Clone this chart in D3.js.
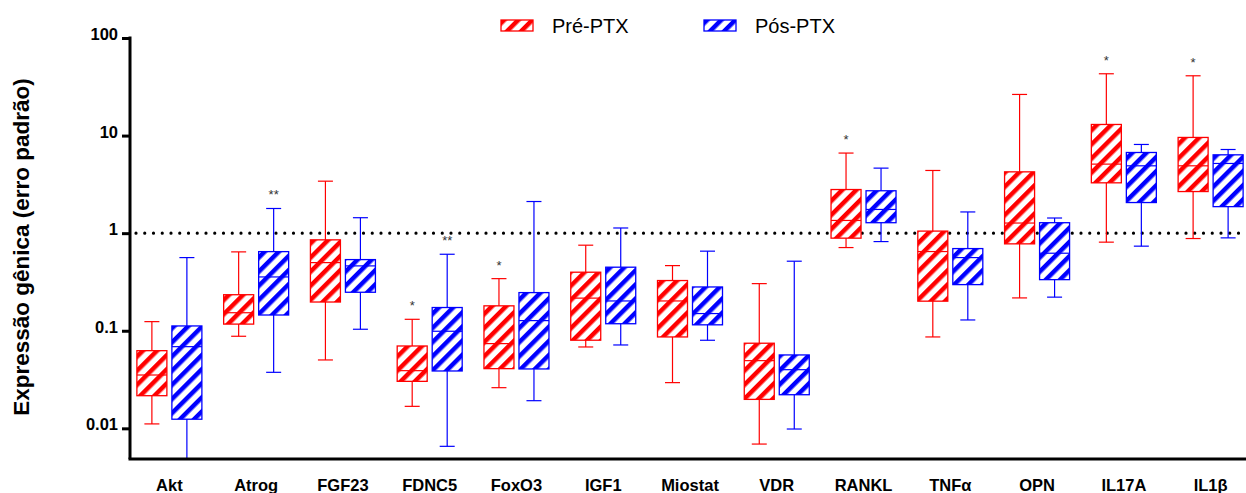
<!DOCTYPE html>
<html>
<head>
<meta charset="utf-8">
<script src="https://cdn.jsdelivr.net/npm/d3@7"></script>
<style>
  body { margin: 0; background: #fff; }
  svg { display: block; font-family: Arial, "Liberation Sans", sans-serif; }
</style>
</head>
<body>
<div id="chart"></div>
<script>
// categories on x axis
const categories = ['Akt', 'Atrog', 'FGF23', 'FDNC5', 'FoxO3', 'IGF1', 'Miostat',
                    'VDR', 'RANKL', 'TNF\u03b1', 'OPN', 'IL17A', 'IL1\u03b2'];

// five-number summaries [min, q1, median, q3, max] per category
const prePTX = [
    [0.0111, 0.0216, 0.0352, 0.0625, 0.124],
    [0.0878, 0.117, 0.153, 0.234, 0.643],
    [0.0502, 0.197, 0.499, 0.854, 3.41],
    [0.0168, 0.0303, 0.039, 0.0698, 0.131],
    [0.0261, 0.0409, 0.0738, 0.180, 0.342],
    [0.0682, 0.080, 0.216, 0.398, 0.753],
    [0.0294, 0.0864, 0.202, 0.327, 0.465],
    [0.0069, 0.0198, 0.0494, 0.0745, 0.304],
    [0.712, 0.889, 1.35, 2.80, 6.62],
    [0.0864, 0.201, 0.648, 1.05, 4.39],
    [0.217, 0.777, 1.27, 4.25, 26.4],
    [0.809, 3.28, 5.10, 13.0, 43.0],
    [0.881, 2.67, 4.90, 9.57, 41.0]
];

const posPTX = [
    [0.004, 0.0124, 0.0687, 0.112, 0.562],
    [0.0375, 0.145, 0.356, 0.647, 1.79],
    [0.1036, 0.248, 0.462, 0.536, 1.44],
    [0.00654, 0.0387, 0.0988, 0.173, 0.608],
    [0.0192, 0.0406, 0.127, 0.246, 2.11],
    [0.0715, 0.118, 0.202, 0.448, 1.13],
    [0.0799, 0.115, 0.150, 0.281, 0.654],
    [0.00984, 0.0221, 0.0399, 0.0565, 0.516],
    [0.820, 1.28, 1.75, 2.72, 4.64],
    [0.129, 0.297, 0.562, 0.695, 1.65],
    [0.221, 0.334, 0.623, 1.28, 1.43],
    [0.736, 2.06, 4.90, 6.71, 8.11],
    [0.895, 1.87, 5.18, 6.35, 7.20]
];

// significance marks above each box
const preSig = ['', '', '', '*', '*', '', '', '', '*', '', '', '*', '*'];
const posSig = ['', '**', '', '**', '', '', '', '', '', '', '', '', ''];

// y tick values and labels
const yTicks = [0.01, 0.1, 1, 10, 100];
const yTickLabels = ['0.01', '0.1', '1', '10', '100'];

const seriesNames = ['Pr\u00e9-PTX', 'P\u00f3s-PTX'];
const seriesKeys = ['pre', 'pos'];
const COLORS = {pre: '#ff0000', pos: '#0000ff'};

const FRAME_WIDTH = 1246;
const FRAME_HEIGHT = 493;

const svg = d3.select('#chart')
    .append('svg')
        .attr('width', FRAME_WIDTH)
        .attr('height', FRAME_HEIGHT);

// hatch patterns
const defs = svg.append('defs');
seriesKeys.forEach((k) => {
    const p = defs.append('pattern')
        .attr('id', 'hatch-' + k)
        .attr('patternUnits', 'userSpaceOnUse')
        .attr('width', 10)
        .attr('height', 10)
        .attr('patternTransform', 'rotate(45)');
    p.append('rect').attr('width', 10).attr('height', 10).attr('fill', '#fff');
    p.append('rect').attr('width', 4.5).attr('height', 10).attr('fill', COLORS[k]);
});

// scales
const AXIS_X = 130;
const AXIS_BOTTOM = 459;

const X_SCALE = d3.scaleBand()
    .domain(categories)
    .range([126, 1254]);

const X_SUB = d3.scaleBand()
    .domain(seriesKeys)
    .range([-32.5, 32.5])
    .paddingInner(1 / 7);

const Y_SCALE = d3.scaleLog()
    .domain([0.00485, 100])
    .range([AXIS_BOTTOM, 38])
    .clamp(true);

// reference line at 1
svg.append('line')
    .attr('x1', AXIS_X + 6)
    .attr('x2', FRAME_WIDTH)
    .attr('y1', Y_SCALE(1))
    .attr('y2', Y_SCALE(1))
    .attr('stroke', '#000')
    .attr('stroke-width', 3.2)
    .attr('stroke-linecap', 'round')
    .attr('stroke-dasharray', '0 8.75');

// build one row per box
const rows = [];
categories.forEach((c, i) => {
    rows.push({cat: c, key: 'pre', v: prePTX[i], sig: preSig[i]});
    rows.push({cat: c, key: 'pos', v: posPTX[i], sig: posSig[i]});
});

const bw = X_SUB.bandwidth();
const boxes = svg.selectAll('.box')
    .data(rows)
    .enter()
    .append('g')
        .attr('class', 'box')
        .attr('transform', d => 'translate(' + (X_SCALE(d.cat) + X_SCALE.bandwidth() / 2 + X_SUB(d.key)) + ',0)');

// whiskers
boxes.append('line')
    .attr('x1', bw / 2).attr('x2', bw / 2)
    .attr('y1', d => Y_SCALE(d.v[0]))
    .attr('y2', d => Y_SCALE(d.v[4]))
    .attr('stroke', d => COLORS[d.key])
    .attr('stroke-width', 1.2);

// whisker caps
[0, 4].forEach((j) => {
    boxes.filter(d => d.v[j] > Y_SCALE.domain()[0])
        .append('line')
        .attr('x1', bw / 2 - 7.5).attr('x2', bw / 2 + 7.5)
        .attr('y1', d => Y_SCALE(d.v[j]))
        .attr('y2', d => Y_SCALE(d.v[j]))
        .attr('stroke', d => COLORS[d.key])
        .attr('stroke-width', 1.2);
});

// box
boxes.append('rect')
    .attr('x', 0)
    .attr('width', bw)
    .attr('y', d => Y_SCALE(d.v[3]))
    .attr('height', d => Y_SCALE(d.v[1]) - Y_SCALE(d.v[3]))
    .attr('fill', d => 'url(#hatch-' + d.key + ')')
    .attr('stroke', d => COLORS[d.key])
    .attr('stroke-width', 1.3);

// median
boxes.append('line')
    .attr('x1', 0).attr('x2', bw)
    .attr('y1', d => Y_SCALE(d.v[2]))
    .attr('y2', d => Y_SCALE(d.v[2]))
    .attr('stroke', d => COLORS[d.key])
    .attr('stroke-width', 1.2);

// significance
boxes.append('text')
    .attr('x', bw / 2)
    .attr('y', d => Y_SCALE(d.v[4]) - 9)
    .attr('text-anchor', 'middle')
    .attr('font-size', '13px')
    .attr('fill', '#333')
    .text(d => d.sig);

// y axis
const yAxis = svg.append('g')
    .attr('transform', 'translate(' + AXIS_X + ',0)')
    .call(d3.axisLeft(Y_SCALE)
        .tickValues(yTicks)
        .tickFormat((d, i) => yTickLabels[i])
        .tickSize(8)
        .tickSizeOuter(0)
        .tickPadding(4));
yAxis.select('.domain')
    .attr('stroke-width', 3)
    .attr('d', 'M0,' + AXIS_BOTTOM + 'V' + (Y_SCALE(100) - 1.5));
yAxis.selectAll('.tick line').attr('stroke-width', 3);
yAxis.selectAll('.tick text')
    .attr('font-size', '16.5px')
    .attr('font-weight', 'bold')
    .attr('font-family', 'Arial, "Liberation Sans", sans-serif')
    .attr('fill', '#000')
    .attr('dy', '0.1em');

// x axis
const xAxis = svg.append('g')
    .attr('transform', 'translate(0,' + AXIS_BOTTOM + ')')
    .call(d3.axisBottom(X_SCALE).tickSize(0).tickPadding(20));
xAxis.select('.domain')
    .attr('stroke-width', 3)
    .attr('d', 'M' + (AXIS_X - 1.5) + ',0H' + FRAME_WIDTH);
xAxis.selectAll('.tick text')
    .attr('font-size', '16.5px')
    .attr('font-weight', 'bold')
    .attr('font-family', 'Arial, "Liberation Sans", sans-serif')
    .attr('fill', '#000')
    .attr('dy', '0.71em');

// y axis title
svg.append('text')
    .attr('transform', 'translate(29,247) rotate(-90)')
    .attr('text-anchor', 'middle')
    .attr('font-size', '22.5px')
    .attr('font-weight', 'bold')
    .text('Express\u00e3o g\u00eanica (erro padr\u00e3o)');

// legend
const legend = svg.selectAll('.legend')
    .data(seriesKeys)
    .enter()
    .append('g')
        .attr('class', 'legend')
        .attr('transform', (d, i) => 'translate(' + (501 + i * 203) + ',20)');
legend.append('rect')
    .attr('width', 32)
    .attr('height', 11)
    .attr('fill', d => 'url(#hatch-' + d + ')')
    .attr('stroke', d => COLORS[d])
    .attr('stroke-width', 1.3);
legend.append('text')
    .attr('x', 51)
    .attr('y', 12.5)
    .attr('font-size', '20px')
    .text((d, i) => seriesNames[i]);
</script>
</body>
</html>
